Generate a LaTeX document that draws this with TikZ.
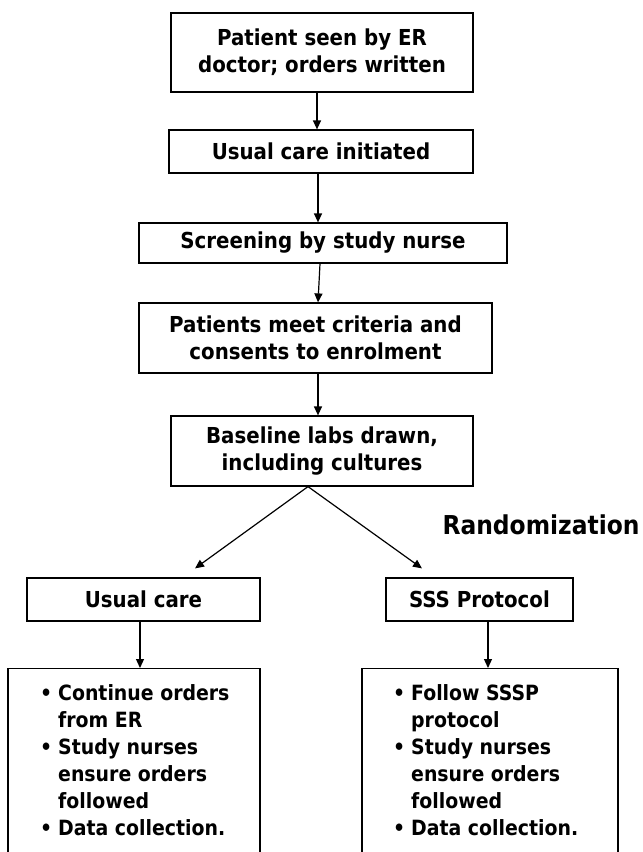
\documentclass[tikz,border=0pt]{standalone}
\usepackage{fontspec}
\setmainfont{DejaVu Sans}
\newfontfamily\condfont{DejaVu Sans Condensed}
\usetikzlibrary{arrows.meta}
\newcommand\bulitem{\makebox[18pt][l]{\textbullet}}
\begin{document}
\begin{tikzpicture}[x=1pt,y=-1pt,
  box/.style={draw, line width=1.2pt, inner sep=0pt, align=center,
    font=\condfont\bfseries\fontsize{22}{27}\selectfont},
  arr/.style={line width=1.2pt, -{Triangle[length=9pt,width=8pt]}},
  bigbox/.style={draw, line width=1.2pt, inner sep=0pt, minimum height=260pt, anchor=north},
  bullets/.style={inner sep=0pt, anchor=base west,
    font=\condfont\bfseries\fontsize{21}{27}\selectfont}]
\useasboundingbox (0,0) rectangle (643,852);
\clip (0,0) rectangle (643,852);

\node[box, minimum width=302pt, minimum height=79pt] (b1) at (322,52.5) {Patient seen by ER\\doctor; orders written};
\node[box, minimum width=304pt, minimum height=43pt] (b2) at (321,151.5) {Usual care initiated};
\node[box, minimum width=368pt, minimum height=40pt] (b3) at (323,243) {Screening by study nurse};
\node[box, minimum width=353pt, minimum height=70pt] (b4) at (315.5,338) {Patients meet criteria and\\consents to enrolment};
\node[box, minimum width=302pt, minimum height=70pt] (b5) at (322,451) {Baseline labs drawn,\\including cultures};

\node[inner sep=0pt, font=\condfont\bfseries\fontsize{26}{30}\selectfont] (rand) at (541,525) {Randomization};

\node[box, minimum width=233pt, minimum height=43pt] (uc) at (143.5,599.5) {Usual care};
\node[box, minimum width=187pt, minimum height=43pt] (sss) at (479.5,599.5) {SSS Protocol};

\node[bigbox, minimum width=252pt] (bl) at (134,668) {};
\node[bigbox, minimum width=256pt] (br) at (490,668) {};

\node[bullets] (blt) at (40,700.5) {\begin{tabular}[t]{@{}l@{}}
\bulitem Continue orders\\
\hspace{18pt}from ER\\
\bulitem Study nurses\\
\hspace{18pt}ensure orders\\
\hspace{18pt}followed\\
\bulitem Data collection.
\end{tabular}};
\node[bullets] (brt) at (393,700.5) {\begin{tabular}[t]{@{}l@{}}
\bulitem Follow SSSP\\
\hspace{18pt}protocol\\
\bulitem Study nurses\\
\hspace{18pt}ensure orders\\
\hspace{18pt}followed\\
\bulitem Data collection.
\end{tabular}};

\draw[arr] ([xshift=-5pt]b1.south) -- ([xshift=-4pt]b2.north);
\draw[arr] ([xshift=-3pt]b2.south) -- ([xshift=-5pt]b3.north);
\draw[arr] ([xshift=-3pt]b3.south) -- ([xshift=2.5pt]b4.north);
\draw[arr] ([xshift=2.5pt]b4.south) -- ([xshift=-4pt]b5.north);
\draw[arr] ([xshift=-14pt]b5.south) -- ([xshift=51.5pt,yshift=9pt]uc.north);
\draw[arr] ([xshift=-14pt]b5.south) -- ([xshift=-57.5pt,yshift=9pt]sss.north);
\draw[arr] ([xshift=-3.5pt]uc.south) -- ([xshift=6pt]bl.north);
\draw[arr] ([xshift=8.5pt]sss.south) -- ([xshift=-2pt]br.north);
\end{tikzpicture}
\end{document}
